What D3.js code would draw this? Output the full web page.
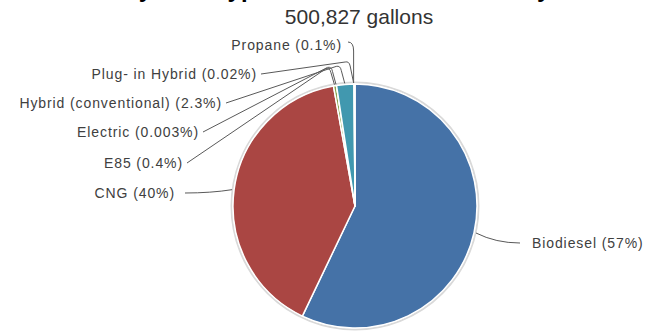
<!DOCTYPE html>
<html>
<head>
<meta charset="utf-8">
<script src="https://cdn.jsdelivr.net/npm/d3@7/dist/d3.min.js"></script>
<style>
  html, body { margin: 0; padding: 0; background: #fff; }
  svg { display: block; font-family: "Liberation Sans", Arial, sans-serif; }
</style>
</head>
<body>
<svg id="chart" width="649" height="332"></svg>
<script>
// Fuel types and their share of total alternative fuel use (percent)
const fuelTypes = ["Biodiesel", "CNG", "E85", "Electric", "Hybrid (conventional)", "Plug- in Hybrid", "Propane"];
const sharePct = [57, 40, 0.4, 0.003, 2.3, 0.02, 0.1];
const shareLabels = ["57%", "40%", "0.4%", "0.003%", "2.3%", "0.02%", "0.1%"];
const sliceColors = ["#4572A7", "#AA4643", "#89A54E", "#71588F", "#4198AF", "#DB843D", "#93A9CF"];
const titleText = "by Fuel Type for State Fleet Inventory";
const subtitleText = "500,827 gallons";

// Label placement: text anchor point, side, and the height of the leader elbow above the slice
const labelLayout = [
  { x: 532, y: 248, side: "start", elbow: null },
  { x: 175, y: 198, side: "end", elbow: null },
  { x: 183, y: 168, side: "end", elbow: 16 },
  { x: 199, y: 137, side: "end", elbow: 17 },
  { x: 222, y: 108, side: "end", elbow: 17 },
  { x: 257, y: 79, side: "end", elbow: 21 },
  { x: 342, y: 50, side: "end", elbow: 0 }
];

const svg = d3.select("#chart");
const cx = 355, cy = 206, radius = 122;

// Title (its upper part runs above the top edge) and subtitle
svg.append("text")
  .attr("x", 124).attr("y", -3)
  .attr("font-size", 24).attr("font-weight", "bold")
  .attr("fill", "#000")
  .text(titleText);

svg.append("text")
  .attr("x", 359).attr("y", 24)
  .attr("text-anchor", "middle")
  .attr("font-size", 21)
  .attr("fill", "#333")
  .text(subtitleText);

const data = fuelTypes.map((name, i) => ({ name, value: sharePct[i], label: shareLabels[i], color: sliceColors[i], layout: labelLayout[i] }));

const pie = d3.pie().value(d => d.value).sort(null);
const arcs = pie(data);
const arc = d3.arc().innerRadius(0).outerRadius(radius);

const g = svg.append("g").attr("transform", `translate(${cx},${cy})`);

// soft outline around the pie
g.append("circle").attr("r", radius + 1.5).attr("fill", "none").attr("stroke", "#d9d9d9").attr("stroke-width", 2);

g.selectAll("path.slice")
  .data(arcs)
  .join("path")
  .attr("class", "slice")
  .attr("d", arc)
  .attr("fill", d => d.data.color)
  .attr("stroke", "#fff")
  .attr("stroke-width", 1.5)
  .attr("stroke-linejoin", "round");

// Leader lines from each label to its slice edge
const leaders = svg.append("g").attr("fill", "none").attr("stroke", "#595959").attr("stroke-width", 1);

arcs.forEach(a => {
  const L = a.data.layout;
  const mid = (a.startAngle + a.endAngle) / 2;
  const ax = cx + radius * Math.sin(mid);
  const ay = cy - radius * Math.cos(mid);
  const ty = L.y - 5;
  let p;
  if (L.elbow === null) {
    // side labels: short gently curved line
    const sx = L.side === "end" ? L.x + 10 : L.x - 12;
    const ex = ax + (L.side === "end" ? -2 : 2);
    const mx = sx + (ex - sx) * 0.55;
    p = d3.path();
    p.moveTo(sx, ty);
    p.quadraticCurveTo(mx, ty, ex, ay);
  } else if (L.elbow === 0) {
    // label sits above the slice: run right then drop down
    const sx = L.x + 6;
    p = d3.path();
    p.moveTo(sx, ty - 3);
    p.quadraticCurveTo(ax - 1, ty - 3, ax - 1, ty + 6);
    p.lineTo(ax - 1, ay - 1);
  } else {
    const ey = ay - L.elbow;
    const sx = L.x + 4;
    const kx = ax - 5;
    p = d3.path();
    p.moveTo(sx, ty);
    p.lineTo(kx - 4, ey - 1);
    p.quadraticCurveTo(kx, ey - 2, kx + 1, ey + 3);
    p.lineTo(ax - 0.5, ay - 1);
  }
  leaders.append("path").attr("d", p.toString());
});

// Category labels
svg.append("g")
  .selectAll("text")
  .data(arcs)
  .join("text")
  .attr("x", d => d.data.layout.x)
  .attr("y", d => d.data.layout.y)
  .attr("text-anchor", d => d.data.layout.side)
  .attr("font-size", 14)
  .attr("letter-spacing", 0.9)
  .attr("fill", "#404040")
  .text(d => `${d.data.name} (${d.data.label})`);
</script>
</body>
</html>
